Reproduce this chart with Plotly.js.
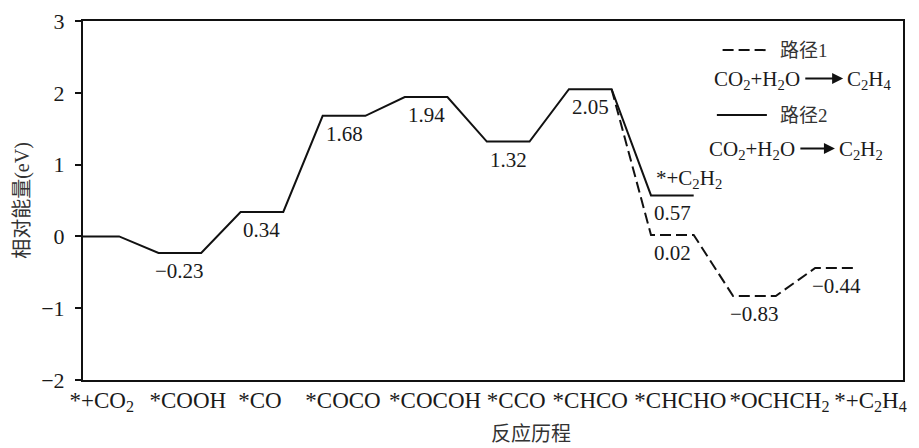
<!DOCTYPE html>
<html>
<head>
<meta charset="utf-8">
<script src="https://cdn.plot.ly/plotly-3.0.1.min.js"></script>
<style>html,body{margin:0;padding:0;background:#fff;}#chart{width:919px;height:448px;}</style>
</head>
<body>
<div id="chart"></div>
<script>
// ---- data ----
const categories = ['*+CO<sub>2</sub>', '*COOH', '*CO', '*COCO', '*COCOH', '*CCO', '*CHCO', '*CHCHO', '*OCHCH<sub>2</sub>', '*+C<sub>2</sub>H<sub>4</sub>'];
const commonEnergy = [0, -0.23, 0.34, 1.68, 1.94, 1.32, 2.05];   // steps *+CO2 ... *CHCO
const path1Energy = [0.02, -0.83, -0.44];                        // *CHCHO, *OCHCH2, *+C2H4
const path2Energy = [0.57];                                      // *+C2H2
const path2EndLabel = '*+C<sub>2</sub>H<sub>2</sub>';
const yTicks = [-2, -1, 0, 1, 2, 3];
const seriesNames = ['路径1', '路径2'];
const reactantText = 'CO<sub>2</sub>+H<sub>2</sub>O';
const productTexts = ['C<sub>2</sub>H<sub>4</sub>', 'C<sub>2</sub>H<sub>2</sub>'];

// ---- style ----
const HW = 0.26;                        // half width of an energy level (x units)
const XR = [-0.18, 9.81];
const PLOT_W = 820;
const PXU = PLOT_W / (XR[1] - XR[0]);
const labelNudgePx = [4, 8, -2, -1, 9, 8, 0, 8, 25, 34];   // typographic nudge of category labels
const FONT = 'Liberation Serif, "Noto Sans CJK SC", serif';
const TXT = '#1a1a1a';
function fmt(v){ return (v < 0 ? '\u2212' : '') + Math.abs(v).toFixed(2); }
function steps(startIdx, vals){
  const x = [], y = [];
  vals.forEach((v, k) => { x.push(startIdx + k - HW, startIdx + k + HW); y.push(v, v); });
  return {x, y};
}
const common = steps(0, commonEnergy);
const p2 = steps(commonEnergy.length, path2Energy);
const p1 = steps(commonEnergy.length, path1Energy);
const lastIdx = commonEnergy.length - 1;
const lastE = commonEnergy[lastIdx];

const traces = [
  {x: common.x.concat(p2.x), y: common.y.concat(p2.y), mode: 'lines', name: seriesNames[1],
   line: {color: '#111', width: 2}, showlegend: false, hoverinfo: 'skip'},
  {x: [lastIdx + HW].concat(p1.x), y: [lastE].concat(p1.y), mode: 'lines', name: seriesNames[0],
   line: {color: '#111', width: 2, dash: '11px,5px'}, showlegend: false, hoverinfo: 'skip'}
];

const ann = [];
function lab(x, y, text){
  ann.push({x, y, xref: 'x', yref: 'y', text, showarrow: false, xanchor: 'center', yanchor: 'top', yshift: -4,
            font: {family: FONT, size: 21, color: TXT}});
}
commonEnergy.forEach((v, i) => { if (i > 0) lab(i, v, fmt(v)); });
path1Energy.forEach((v, k) => lab(commonEnergy.length + k, v, fmt(v)));
path2Energy.forEach((v, k) => {
  lab(commonEnergy.length + k, v, fmt(v));
  ann.push({x: commonEnergy.length + k, y: v, xref: 'x', yref: 'y', text: path2EndLabel, showarrow: false,
            xanchor: 'center', yanchor: 'bottom', yshift: 1, xshift: 17, font: {family: FONT, size: 21, color: TXT}});
});
// legend (drawn)
const shapes = [
  {type: 'line', xref: 'paper', yref: 'paper', x0: 0.780, x1: 0.834, y0: 0.919, y1: 0.919, line: {color: '#111', width: 2, dash: '11px,5px'}},
  {type: 'line', xref: 'paper', yref: 'paper', x0: 0.773, x1: 0.834, y0: 0.738, y1: 0.738, line: {color: '#111', width: 2}}
];
function P(o){ return Object.assign({xref: 'paper', yref: 'paper', showarrow: false, yanchor: 'middle'}, o); }
ann.push(P({x: 0.848, y: 0.919, xanchor: 'left', text: seriesNames[0], font: {family: FONT, size: 19, color: '#333'}}));
ann.push(P({x: 0.848, y: 0.738, xanchor: 'left', text: seriesNames[1], font: {family: FONT, size: 19, color: '#333'}}));
const eqRows = [
  {y: 0.836, lx: 0.877, tail: 0.879, head: 0.927, rx: 0.929},
  {y: 0.641, lx: 0.871, tail: 0.873, head: 0.917, rx: 0.920}
];
eqRows.forEach((r, k) => {
  ann.push(P({x: r.lx, y: r.y, xanchor: 'right', text: reactantText, font: {family: FONT, size: 21, color: TXT}}));
  ann.push(P({x: r.rx, y: r.y, xanchor: 'left', text: productTexts[k], font: {family: FONT, size: 21, color: TXT}}));
  ann.push({xref: 'paper', yref: 'paper', x: r.head, y: r.y + 0.004, text: '', showarrow: true,
            ax: -(r.head - r.tail) * PLOT_W, ay: 0, arrowhead: 2, arrowsize: 1.1, arrowwidth: 2,
            arrowcolor: '#111', standoff: 0, startstandoff: 0});
});
// x axis title
ann.push(P({x: 0.546, y: -0.186, xanchor: 'center', yanchor: 'bottom', text: '反应历程', font: {family: FONT, size: 20, color: '#333'}}));

const layout = {
  width: 919, height: 448,
  margin: {l: 83, r: 16, t: 21, b: 68},
  paper_bgcolor: '#fff', plot_bgcolor: '#fff',
  showlegend: false,
  xaxis: {range: XR, tickvals: categories.map((c, i) => i + labelNudgePx[i] / PXU), ticktext: categories,
          tickangle: 0, ticks: '', showgrid: false, zeroline: false,
          showline: true, mirror: true, linecolor: '#111', linewidth: 2,
          tickfont: {family: FONT, size: 23, color: TXT}, ticklabelstandoff: -2},
  yaxis: {range: [-2, 3], tickvals: yTicks, ticks: 'outside', ticklen: 6, tickwidth: 2, tickcolor: '#111',
          showgrid: false, zeroline: false, showline: true, mirror: true, linecolor: '#111', linewidth: 2,
          tickfont: {family: FONT, size: 22, color: TXT}, ticklabelstandoff: 6,
          title: {text: '相对能量(eV)', font: {family: FONT, size: 20, color: '#333'}, standoff: 6}},
  shapes, annotations: ann
};
Plotly.newPlot('chart', traces, layout, {staticPlot: true, displayModeBar: false});
</script>
</body>
</html>
